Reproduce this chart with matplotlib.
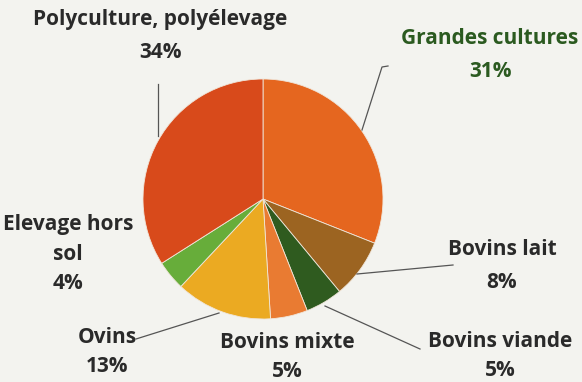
import matplotlib
matplotlib.use('Agg')
import matplotlib.pyplot as plt

# data
categories = ['Grandes cultures', 'Bovins lait', 'Bovins viande', 'Bovins mixte',
              'Ovins', 'Elevage hors\nsol', 'Polyculture, polyélevage']
shares = [31, 8, 5, 5, 13, 4, 34]
colors = ['#E5661F', '#9C6421', '#2F5B1F', '#E97B32', '#EBAA22', '#67AD3A', '#D84A1B']

W, H = 582, 382
fig = plt.figure(figsize=(W / 100, H / 100), dpi=100)
fig.patch.set_facecolor('#F3F3EF')
ax = fig.add_axes([0, 0, 1, 1])

cx, cy, r = 263, 382 - 199, 120
ax.pie(shares, colors=colors, startangle=90, counterclock=False,
       center=(cx, cy), radius=r, frame=True,
       wedgeprops=dict(linewidth=0.6, edgecolor='#F0E6DA'))
ax.set_xlim(0, W)
ax.set_ylim(0, H)
ax.set_aspect('equal')
ax.axis('off')

# label positions (image px), line spacing and leader lines
font = dict(family=['Open Sans', 'DejaVu Sans'], weight='bold', fontsize=15,
            ha='center', va='center')
label_pos = [(490, 55), (502, 266), (500, 356), (287, 357),
             (107, 352), (68, 254), (160, 36)]
spacing = [1.8, 1.75, 1.55, 1.45, 1.5, 1.52, 1.72]
text_colors = ['#2B5A20'] + ['#2A2A2A'] * 6
for name, v, (x, y), ls, tc in zip(categories, shares, label_pos, spacing, text_colors):
    ax.text(x, H - y, f'{name}\n{v}%', color=tc, linespacing=ls, **font)

leaders = [
    [(388, 66), (382, 67), (362, 130)],
    [(453, 265), (357, 274)],
    [(420, 349), (325, 306)],
    [(136, 339), (219, 313)],
    [(158, 84), (158, 136)],
]
for pts in leaders:
    xs = [p[0] for p in pts]
    ys = [H - p[1] for p in pts]
    ax.plot(xs, ys, color='#555555', linewidth=0.9)

fig.savefig('out.png', dpi=100, facecolor=fig.get_facecolor())
